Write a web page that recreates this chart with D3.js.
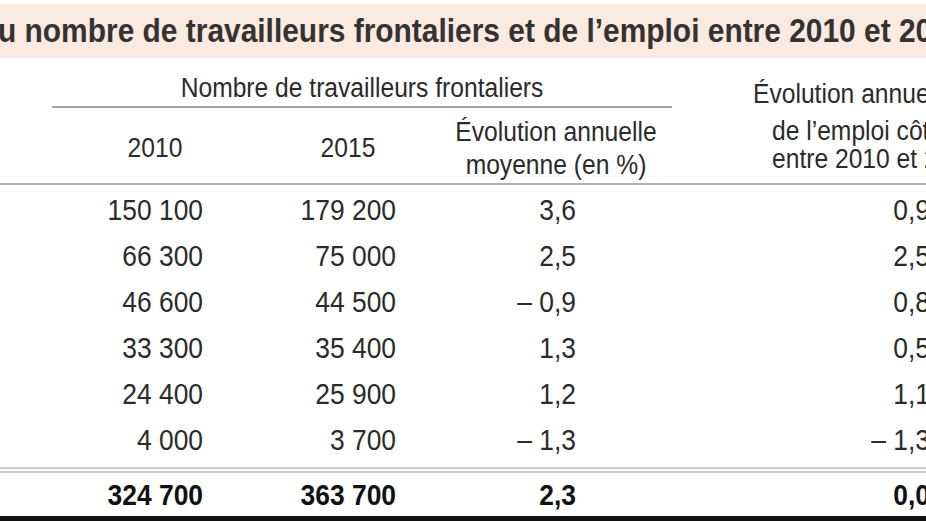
<!DOCTYPE html>
<html><head><meta charset="utf-8">
<script src="https://cdn.jsdelivr.net/npm/d3@7"></script>
<style>body{margin:0;background:#fff}svg{display:block}</style>
</head><body>
<svg id="chart" width="926" height="521"></svg>
<script>
// table values
const rows = ["r1", "r2", "r3", "r4", "r5", "r6"];
const v2010 = ["150 100", "66 300", "46 600", "33 300", "24 400", "4 000"];
const v2015 = ["179 200", "75 000", "44 500", "35 400", "25 900", "3 700"];
const evolFront = ["3,6", "2,5", "\u2013 0,9", "1,3", "1,2", "\u2013 1,3"];
const evolEmploi = ["0,9", "2,5", "0,8", "0,5", "1,1", "\u2013 1,3"];
const total = ["324 700", "363 700", "2,3", "0,0"];
const title = "u nombre de travailleurs frontaliers et de l\u2019emploi entre 2010 et 2015";

const svg = d3.select("#chart");
const SX = 0.88; // narrow font look
const ink = "#2b2b2b";

function txt(x, y, s, opts = {}) {
  svg.append("text")
    .attr("transform", `translate(${x},${y}) scale(${SX},1)`)
    .attr("text-anchor", opts.anchor || "middle")
    .attr("font-family", "Liberation Sans, Arial, sans-serif")
    .attr("font-size", opts.size || 28)
    .attr("font-weight", opts.bold ? "bold" : "normal")
    .attr("fill", opts.fill || ink)
    .text(s);
}

// title band
svg.append("rect").attr("x", 0).attr("y", 4).attr("width", 926).attr("height", 54).attr("fill", "#fbeadf");
txt(-2, 42, title, { anchor: "start", size: 34, bold: true, fill: "#333" });

// header
txt(362, 97, "Nombre de travailleurs frontaliers");
svg.append("line").attr("x1", 52).attr("x2", 672).attr("y1", 107).attr("y2", 107).attr("stroke", "#888").attr("stroke-width", 1.5);
txt(155, 157, "2010");
txt(348, 157, "2015");
txt(556, 141, "\u00c9volution annuelle");
txt(556, 174, "moyenne (en %)");
txt(753, 103, "\u00c9volution annuelle", { anchor: "start" });
txt(772, 140, "de l\u2019emploi c\u00f4te", { anchor: "start" });
txt(772, 168, "entre 2010 et 2015", { anchor: "start" });
svg.append("line").attr("x1", 0).attr("x2", 926).attr("y1", 184).attr("y2", 184).attr("stroke", "#999").attr("stroke-width", 1.5);

// scales
const y = d3.scaleBand().domain(rows).range([186, 462]);
const cols = [v2010, v2015, evolFront, evolEmploi];
const colRight = d3.scaleOrdinal().domain([0, 1, 2, 3]).range([203, 396, 576, 930]);

cols.forEach((vals, c) => {
  rows.forEach((r, i) => {
    txt(colRight(c), y(r) + y.bandwidth() / 2 + 11, vals[i], { anchor: "end", size: 30 });
  });
});

// double separator
svg.append("line").attr("x1", 0).attr("x2", 926).attr("y1", 468).attr("y2", 468).attr("stroke", "#999").attr("stroke-width", 1.2);
svg.append("line").attr("x1", 0).attr("x2", 926).attr("y1", 472).attr("y2", 472).attr("stroke", "#999").attr("stroke-width", 1.2);

total.forEach((t, c) => txt(colRight(c), 505, t, { anchor: "end", size: 30, bold: true, fill: "#111" }));

svg.append("rect").attr("x", 0).attr("y", 516).attr("width", 926).attr("height", 5).attr("fill", "#111");
</script>
</body></html>
